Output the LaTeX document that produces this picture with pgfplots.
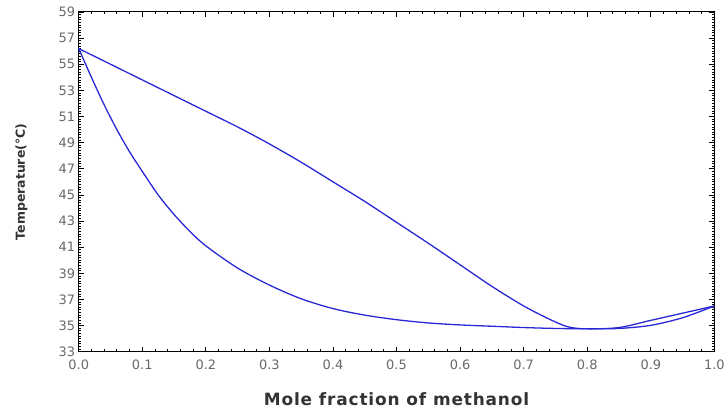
\documentclass[border=0pt]{standalone}
\usepackage{pgfplots}
\pgfplotsset{compat=1.18}
\usepackage{fontspec}
\setmainfont{DejaVu Sans}
\definecolor{curve}{RGB}{40,40,215}
\definecolor{ticklab}{RGB}{105,105,105}

\begin{document}
\begin{tikzpicture}
\begin{axis}[
    name=ax,
    scale only axis,
    width=638pt, height=341pt,
    xmin=0, xmax=1, ymin=33, ymax=59,
    xtick={0,0.1,...,1.0},
    ytick={33,35,...,59},
    minor x tick num=4,
    minor y tick num=9,
    tick align=inside,
    major tick length=5pt,
    minor tick length=2.5pt,
    axis line style={line width=1pt},
    every tick/.style={black, line width=0.8pt},
    xticklabel style={yshift=-4.5pt, /pgf/number format/.cd, fixed, fixed zerofill, precision=1},
    /pgf/number format/assume math mode=true,
    tick label style={font=\fontsize{13}{14}\selectfont, text=ticklab},
    xlabel={Mole fraction of methanol},
    ylabel={Temperature(°C)},
    every axis x label/.style={at={(axis description cs:0.5,-0.14)}, anchor=center,
        font=\fontsize{17}{19}\selectfont\bfseries\addfontfeature{LetterSpace=5}, text=black!80},
    every axis y label/.style={at={(axis description cs:-0.09,0.5)}, anchor=center, rotate=90,
        font=\fontsize{12.5}{15}\selectfont\bfseries, text=black!80},
    clip=false,
]
% dew curve
\addplot[curve, line width=1.3pt, smooth, tension=0.5] coordinates {
(0,56.2) (0.05,55.0) (0.1,53.8) (0.15,52.6) (0.2,51.4) (0.25,50.2)
(0.3,48.9) (0.35,47.5) (0.4,46.0) (0.45,44.5) (0.5,42.9) (0.55,41.3)
(0.6,39.65) (0.65,38.0) (0.7,36.5) (0.74,35.5) (0.77,34.9) (0.8,34.75)
(0.85,34.85) (0.9,35.4) (0.95,35.95) (1.0,36.5)
};
% bubble curve
\addplot[curve, line width=1.3pt, smooth, tension=0.5] coordinates {
(0,56.2) (0.02,54.0) (0.04,51.9) (0.06,50.0) (0.08,48.3) (0.1,46.8)
(0.125,45.0) (0.15,43.5) (0.175,42.2) (0.2,41.1) (0.25,39.4) (0.3,38.1)
(0.35,37.05) (0.4,36.3) (0.45,35.8) (0.5,35.45) (0.55,35.2) (0.6,35.05)
(0.65,34.95) (0.7,34.85) (0.75,34.78) (0.8,34.75) (0.85,34.78) (0.9,35.02)
(0.95,35.6) (1.0,36.5)
};
\end{axis}
\path (ax.south west) ++(-79pt,-56pt) coordinate (bl);
\path (ax.north east) ++(11pt,12pt) coordinate (tr);
\path (bl) rectangle (tr);
\end{tikzpicture}
\end{document}
